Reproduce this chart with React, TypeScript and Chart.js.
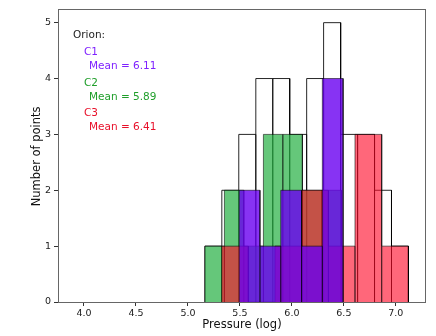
import { useEffect, useRef } from 'react';
import { Chart, registerables } from 'chart.js';

Chart.register(...registerables);

// Tick labels
const xTickValues = [4.0, 4.5, 5.0, 5.5, 6.0, 6.5, 7.0];
const yTickValues = [0, 1, 2, 3, 4, 5];

// All points (outline histogram)
const totalEdges = [5.163, 5.326, 5.489, 5.653, 5.816, 5.979, 6.142, 6.305, 6.469, 6.632, 6.795, 6.958, 7.121];
const totalCounts = [1, 2, 3, 4, 4, 3, 4, 5, 3, 3, 2, 1];

// C1
const c1Edges = [5.493, 5.693, 5.893, 6.093, 6.293, 6.493];
const c1Counts = [2, 1, 2, 1, 4];

// C2
const c2Edges = [5.163, 5.351, 5.538, 5.726, 5.913, 6.101, 6.288, 6.476];
const c2Counts = [1, 2, 1, 3, 3, 2, 2];

// C3
const c3Edges = [5.324, 5.581, 5.837, 6.094, 6.351, 6.607, 6.864, 7.121];
const c3Counts = [1, 0, 1, 2, 1, 3, 1];

const legendTitle = 'Orion:';
const legendItems = [
  { name: 'C1', mean: 'Mean = 6.11', color: '#7f22ff' },
  { name: 'C2', mean: 'Mean = 5.89', color: '#1f9e2a' },
  { name: 'C3', mean: 'Mean = 6.41', color: '#e8102a' },
];

function histPoints(edges: number[], counts: number[]) {
  const pts: { x: number; y: number }[] = [];
  counts.forEach((c, i) => {
    pts.push({ x: edges[i], y: 0 }, { x: edges[i], y: c }, { x: edges[i + 1], y: c }, { x: edges[i + 1], y: 0 });
  });
  return pts;
}

const FONT = '"DejaVu Sans", Verdana, sans-serif';

const overlayPlugin = {
  id: 'overlay',
  afterDraw(chart: any) {
    const { ctx, chartArea: a } = chart;
    ctx.save();
    // frame
    ctx.strokeStyle = '#666';
    ctx.lineWidth = 1;
    ctx.strokeRect(Math.round(a.left) + 0.5, Math.round(a.top) + 0.5, Math.round(a.right - a.left) - 1, Math.round(a.bottom - a.top));
    // legend text
    ctx.textBaseline = 'middle';
    ctx.textAlign = 'left';
    ctx.font = '10.5px ' + FONT;
    ctx.fillStyle = '#222';
    ctx.fillText(legendTitle, a.left + 15, a.top + 27);
    legendItems.forEach((it, i) => {
      const y0 = a.top + 44 + i * 30.3;
      ctx.fillStyle = it.color;
      ctx.fillText(it.name, a.left + 26, y0);
      ctx.fillText(it.mean, a.left + 31, y0 + 14);
    });
    // axis titles
    ctx.fillStyle = '#111';
    ctx.font = '11.5px ' + FONT;
    ctx.textAlign = 'center';
    ctx.fillText('Pressure (log)', (a.left + a.right) / 2, a.bottom + 23.5);
    ctx.save();
    ctx.translate(a.left - 21, (a.top + a.bottom) / 2 + 1);
    ctx.rotate(-Math.PI / 2);
    ctx.fillText('Number of points', 0, 0);
    ctx.restore();
    ctx.restore();
  },
};

export default function App() {
  const ref = useRef<HTMLCanvasElement>(null);
  useEffect(() => {
    if (!ref.current) return;
    const edge = 'rgba(0,0,0,0.55)';
    const chart = new Chart(ref.current, {
      type: 'line',
      data: {
        datasets: [
          {
            label: 'C1',
            data: histPoints(c1Edges, c1Counts),
            backgroundColor: 'rgba(105,0,240,0.8)',
            borderColor: edge,
            borderWidth: 1,
            fill: 'origin',
            order: 0,
          },
          {
            label: 'C3',
            data: histPoints(c3Edges, c3Counts),
            backgroundColor: 'rgba(255,10,40,0.62)',
            borderColor: edge,
            borderWidth: 1,
            fill: 'origin',
            order: 1,
          },
          {
            label: 'C2',
            data: histPoints(c2Edges, c2Counts),
            backgroundColor: 'rgba(35,175,65,0.7)',
            borderColor: edge,
            borderWidth: 1,
            fill: 'origin',
            order: 2,
          },
          {
            label: 'All',
            data: histPoints(totalEdges, totalCounts),
            backgroundColor: 'rgba(0,0,0,0)',
            borderColor: 'rgba(0,0,0,0.85)',
            borderWidth: 1,
            fill: false,
            order: 3,
          },
        ] as any,
      },
      options: {
        animation: false,
        responsive: false,
        devicePixelRatio: 1,
        events: [],
        layout: { padding: { top: 7, right: 10, left: 0, bottom: 0 } },
        elements: { point: { radius: 0 }, line: { tension: 0 } },
        plugins: { legend: { display: false }, tooltip: { enabled: false } },
        scales: {
          x: {
            type: 'linear',
            min: 3.75,
            max: 7.29,
            afterBuildTicks: (s: any) => {
              s.ticks = xTickValues.map((v) => ({ value: v }));
            },
            afterFit: (s: any) => {
              s.height = 34;
            },
            ticks: {
              callback: (v: any) => Number(v).toFixed(1),
              font: { family: FONT, size: 9.5 },
              color: '#222',
              padding: 2,
              maxRotation: 0,
              autoSkip: false,
            },
            grid: { display: true, drawOnChartArea: false, drawTicks: true, tickLength: 4, tickColor: '#333', color: '#333' },
            border: { display: false },
          },
          y: {
            type: 'linear',
            min: 0,
            max: 5.25,
            afterBuildTicks: (s: any) => {
              s.ticks = yTickValues.map((v) => ({ value: v }));
            },
            afterFit: (s: any) => {
              s.width = 58;
            },
            ticks: {
              callback: (v: any) => String(v),
              font: { family: FONT, size: 9.5 },
              color: '#222',
              padding: 3,
              autoSkip: false,
            },
            grid: { display: true, drawOnChartArea: false, drawTicks: true, tickLength: 4, tickColor: '#333', color: '#333' },
            border: { display: false },
          },
        },
      } as any,
      plugins: [overlayPlugin],
    });
    return () => chart.destroy();
  }, []);
  return (
    <div style={{ position: 'fixed', left: 0, top: 0, width: 436, height: 336, background: '#fff' }}>
      <canvas ref={ref} width={436} height={336} style={{ width: 436, height: 336, display: 'block' }} />
    </div>
  );
}
